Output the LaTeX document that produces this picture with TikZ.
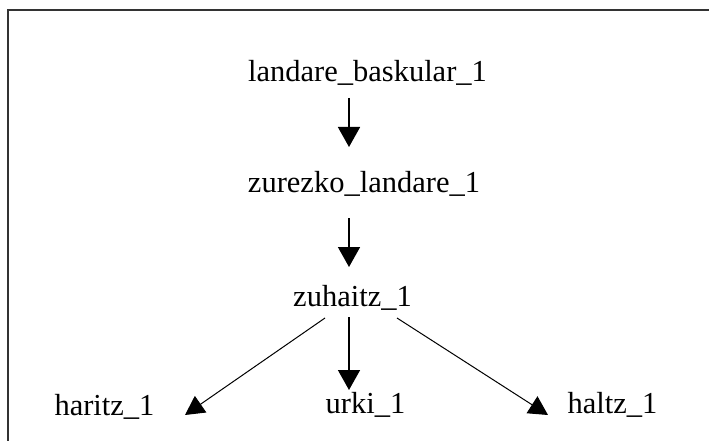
\documentclass[tikz,border=0pt]{standalone}
\usepackage{fontspec}
\setmainfont{Liberation Serif}
\usetikzlibrary{arrows.meta}
\begin{document}
\begin{tikzpicture}[x=1pt,y=-1pt,
  lbl/.style={anchor=base,inner sep=0pt,font=\fontsize{30.5}{36}\selectfont},
  vlink/.style={line width=1.6pt,-{Triangle[length=20pt,width=22pt]}},
  dlink/.style={line width=1pt,-{Triangle[length=19pt,width=20pt]}},
  frame/.style={line width=2pt,draw=black!80}]
\useasboundingbox (0,0) rectangle (709,441);
\fill[white] (0,0) rectangle (709,441);
\coordinate (fr) at (709,10);
\coordinate (fc) at (8,10);
\coordinate (fb) at (8,441);
\draw[frame] (fr) -- (fc) -- (fb);
\node[lbl] (lb) at (367.5,82) {landare\_baskular\_1};
\node[lbl] (zl) at (364,192) {zurezko\_landare\_1};
\node[lbl] (zu) at (352.5,306) {zuhaitz\_1};
\node[lbl] (ha) at (104.5,415) {haritz\_1};
\node[lbl] (ur) at (365.5,413) {urki\_1};
\node[lbl] (hl) at (612.5,413) {haltz\_1};
\coordinate (lb-s) at (349,98);
\coordinate (zl-n) at (349,147);
\coordinate (zl-s) at (349,218);
\coordinate (zu-n) at (349,267);
\coordinate (zu-s) at (349,317);
\coordinate (ur-n) at (349,390);
\coordinate (zu-sw) at (325,318);
\coordinate (ha-e) at (185,415);
\coordinate (zu-se) at (397,318);
\coordinate (hl-w) at (548,415);
\draw[vlink] (lb-s) -- (zl-n);
\draw[vlink] (zl-s) -- (zu-n);
\draw[vlink] (zu-s) -- (ur-n);
\draw[dlink] (zu-sw) -- (ha-e);
\draw[dlink] (zu-se) -- (hl-w);
\end{tikzpicture}
\end{document}
